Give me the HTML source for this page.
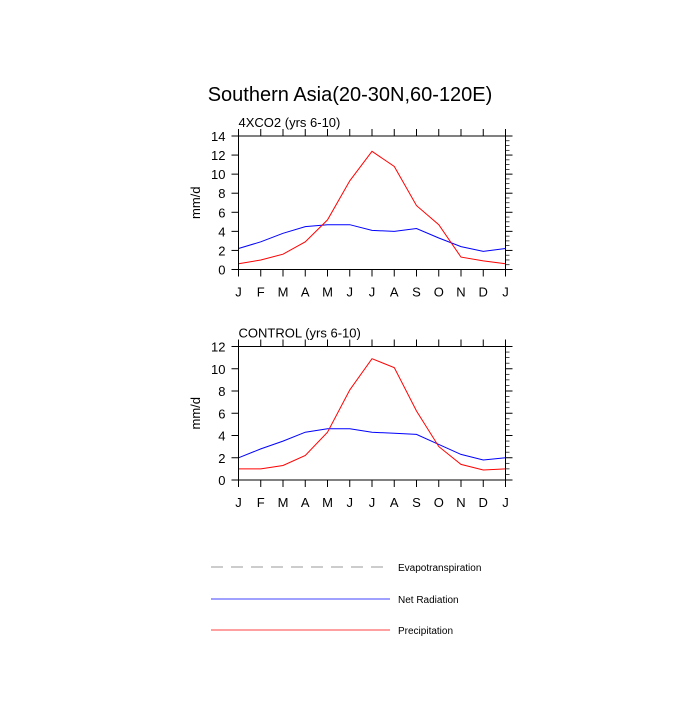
<!DOCTYPE html>
<html><head><meta charset="utf-8"><style>
body{margin:0;background:#fff}
svg text{font-family:"Liberation Sans",Arial,sans-serif;fill:#000}
</style></head><body>
<svg id="chart" width="700" height="700" viewBox="0 0 700 700">
<text x="350" y="101" font-size="20" text-anchor="middle">Southern Asia(20-30N,60-120E)</text>
<g id="panels"></g>
<g id="legend">
<line x1="211" y1="567" x2="390" y2="567" stroke="#999" stroke-dasharray="12,8"/>
<text x="398" y="571" font-size="10">Evapotranspiration</text>
<line x1="211" y1="599" x2="390" y2="599" stroke="#00f" stroke-width="0.8"/>
<text x="398" y="603" font-size="10">Net Radiation</text>
<line x1="211" y1="630" x2="390" y2="630" stroke="#f00" stroke-width="0.8"/>
<text x="398" y="634" font-size="10">Precipitation</text>
</g>
</svg>
<script>
const months = ["J","F","M","A","M","J","J","A","S","O","N","D","J"];
const co2Precip = [0.6,1.0,1.6,2.9,5.2,9.3,12.4,10.8,6.7,4.7,1.3,0.9,0.6];
const co2NetRad = [2.2,2.9,3.8,4.5,4.7,4.7,4.1,4.0,4.3,3.3,2.4,1.9,2.2];
const ctlPrecip = [1.0,1.0,1.3,2.2,4.3,8.1,10.9,10.1,6.2,3.0,1.4,0.9,1.0];
const ctlNetRad = [2.0,2.8,3.5,4.3,4.6,4.6,4.3,4.2,4.1,3.2,2.3,1.8,2.0];
const co2Ticks = [0,2,4,6,8,10,12,14];
const ctlTicks = [0,2,4,6,8,10,12];
const NS="http://www.w3.org/2000/svg";
const root=document.getElementById('panels');
function mk(tag,attrs,parent){const e=document.createElementNS(NS,tag);for(const k in attrs)e.setAttribute(k,attrs[k]);parent.appendChild(e);return e;}
function panel(key,title,top,bottom,yticks,precip,netrad){
  const L=238.5,R=505.5,ymax=yticks[yticks.length-1];
  const g=mk('g',{},root);
  
  
  const xs=i=>L+(R-L)*i/(months.length-1);
  const ys=v=>bottom-(bottom-top)*v/ymax;
  const t=mk('text',{x:L,y:top-9,'font-size':13},g);t.textContent=title;
  
  
  const yl=mk('text',{x:0,y:0,'font-size':13,'text-anchor':'middle',transform:`translate(200,${(top+bottom)/2}) rotate(-90)`},g);yl.textContent='mm/d';
  
  
  // ticks
  months.forEach((m,i)=>{
    const x=xs(i);
    mk('line',{x1:x,y1:bottom,x2:x,y2:bottom+7,stroke:'#000'},g);
    mk('line',{x1:x,y1:top,x2:x,y2:top-7,stroke:'#000'},g);
    const tx=mk('text',{x:x,y:bottom+27,'font-size':13,'text-anchor':'middle'},g);tx.textContent=m;
    
    
  });
  yticks.forEach((v,i)=>{
    const y=ys(v);
    mk('line',{x1:L,y1:y,x2:L-7,y2:y,stroke:'#000'},g);
    mk('line',{x1:R,y1:y,x2:R+7,y2:y,stroke:'#000'},g);
    if(i<yticks.length-1){for(let k=1;k<4;k++){const yy=ys(v+(yticks[1]-yticks[0])*k/4);mk('line',{x1:R,y1:yy,x2:R+4,y2:yy,stroke:'#000','stroke-width':0.7},g);}}
    const ty=mk('text',{x:L-13,y:y+5,'font-size':13,'text-anchor':'end'},g);ty.textContent=v;
    
    
  });
  const pts=a=>a.map((v,i)=>xs(i).toFixed(1)+','+ys(v).toFixed(1)).join(' ');
  const nr=mk('polyline',{points:pts(netrad),fill:'none',stroke:'#00f','stroke-width':1},g);
  
  
  const pr=mk('polyline',{points:pts(precip),fill:'none',stroke:'#f00','stroke-width':1},g);
  
  
  const fr=mk('rect',{x:L,y:top,width:R-L,height:bottom-top,fill:'none',stroke:'#000','stroke-width':1},g);
  
  
}
panel('co2','4XCO2 (yrs 6-10)',136,269.5,co2Ticks,co2Precip,co2NetRad);
panel('control','CONTROL (yrs 6-10)',346.5,480,ctlTicks,ctlPrecip,ctlNetRad);
</script>
</body></html>
